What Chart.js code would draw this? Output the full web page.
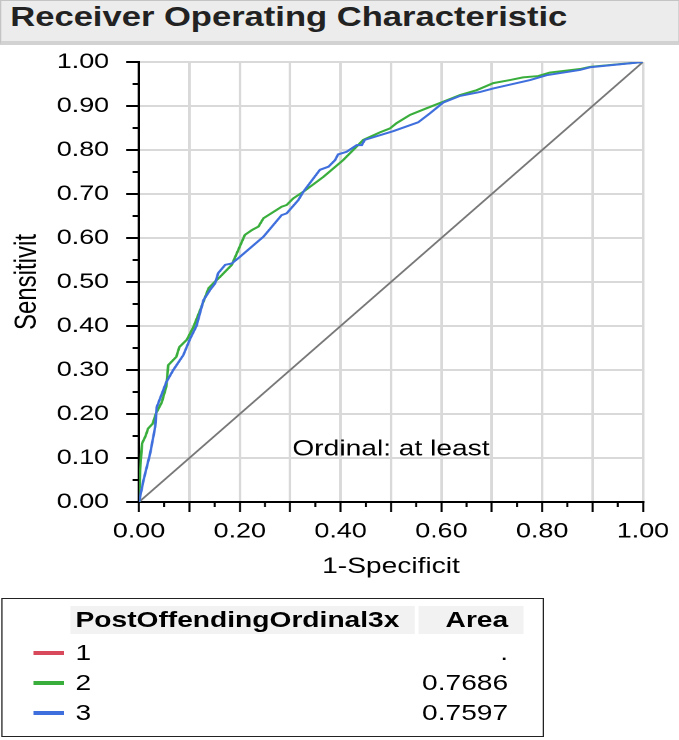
<!DOCTYPE html>
<html>
<head>
<meta charset="utf-8">
<script src="https://cdn.jsdelivr.net/npm/chart.js@4.4.1/dist/chart.umd.min.js"></script>
<style>
body { margin: 0; background: #fff; overflow: hidden; font-family: 'Liberation Sans', Arial, sans-serif; color: #000; }
#page { position: absolute; left: 0; top: 0; width: 531px; height: 740px; transform: scaleX(1.28); transform-origin: 0 0; }
#titleBar { position: absolute; left: 0; top: 0; width: 531px; height: 45px; box-sizing: border-box; background: #ececec; border: 1px solid #c4c4c4; border-bottom: 4px solid #d2d2d2; }
#titleBar span { position: absolute; left: 7px; top: 3px; font-weight: bold; font-size: 27px; line-height: 27px; color: #222; white-space: nowrap; }
#chartBox { position: absolute; left: 0; top: 45px; width: 531px; height: 545px; }
#legendBox { position: absolute; left: 1px; top: 598px; width: 424px; height: 139px; box-sizing: border-box; border: 1px solid #222; }
.hdr { position: absolute; top: 606px; height: 28px; background: #f2f2f2; }
.txt { position: absolute; font-size: 22px; white-space: nowrap; }
.swatch { position: absolute; left: 26px; width: 24px; height: 4px; }
</style>
</head>
<body>
<div id="page">
  <div id="titleBar"><span>Receiver Operating Characteristic</span></div>
  <div id="chartBox"><canvas id="rocChart"></canvas></div>
  <div id="legendBox"></div>
  <div class="hdr" style="left:55px;width:269px"></div>
  <div class="hdr" style="left:327px;width:82px"></div>
  <div id="legendRows"></div>
</div>
<script>
const xTickLabels = ['0.00', '0.20', '0.40', '0.60', '0.80', '1.00'];
const yTickLabels = ['0.00', '0.10', '0.20', '0.30', '0.40', '0.50', '0.60', '0.70', '0.80', '0.90', '1.00'];

// group 2 (green)
const greenX = [0, 0.002, 0.006, 0.013, 0.018, 0.027, 0.034, 0.045, 0.054, 0.058, 0.074, 0.080, 0.095, 0.108, 0.124, 0.138, 0.150, 0.161, 0.184, 0.210, 0.224, 0.237, 0.247, 0.283, 0.293, 0.306, 0.326, 0.366, 0.405, 0.445, 0.478, 0.498, 0.511, 0.538, 0.571, 0.604, 0.637, 0.670, 0.703, 0.736, 0.762, 0.792, 0.815, 0.875, 0.895, 1];
const greenY = [0, 0.070, 0.133, 0.150, 0.167, 0.178, 0.202, 0.226, 0.262, 0.311, 0.330, 0.352, 0.369, 0.398, 0.444, 0.486, 0.500, 0.512, 0.539, 0.607, 0.618, 0.626, 0.645, 0.671, 0.675, 0.690, 0.705, 0.739, 0.777, 0.823, 0.840, 0.849, 0.861, 0.880, 0.895, 0.910, 0.925, 0.936, 0.952, 0.959, 0.965, 0.968, 0.976, 0.984, 0.989, 1];

// group 3 (blue)
const blueX = [0, 0.009, 0.022, 0.032, 0.035, 0.042, 0.054, 0.068, 0.088, 0.101, 0.114, 0.128, 0.141, 0.151, 0.157, 0.171, 0.184, 0.200, 0.247, 0.283, 0.293, 0.316, 0.326, 0.359, 0.376, 0.389, 0.395, 0.412, 0.432, 0.442, 0.448, 0.505, 0.554, 0.577, 0.604, 0.637, 0.677, 0.703, 0.776, 0.809, 0.875, 0.895, 1];
const blueY = [0, 0.050, 0.110, 0.170, 0.215, 0.236, 0.272, 0.300, 0.334, 0.370, 0.400, 0.459, 0.482, 0.497, 0.520, 0.539, 0.542, 0.557, 0.603, 0.652, 0.656, 0.686, 0.705, 0.755, 0.762, 0.777, 0.790, 0.796, 0.811, 0.811, 0.823, 0.843, 0.863, 0.883, 0.908, 0.923, 0.932, 0.940, 0.959, 0.970, 0.982, 0.988, 1];

const chanceX = [0, 1];
const chanceY = [0, 1];

const groups = ['1', '2', '3'];
const areas = ['.', '0.7686', '0.7597'];
const groupColors = ['#d84a5b', '#3aae3c', '#3f6fdc'];
const annotationText = 'Ordinal: at least';
const minorTickValues = [0.05, 0.15, 0.25, 0.35, 0.45, 0.55, 0.65, 0.75, 0.85, 0.95];

const toPoints = (xs, ys) => xs.map((x, i) => ({ x, y: ys[i] }));

Chart.defaults.font.family = '"Liberation Sans", Arial, sans-serif';
Chart.defaults.color = '#000';

const extras = {
    id: 'extras',
    afterDraw(chart) {
        const { ctx, scales: { x, y } } = chart;
        ctx.save();
        ctx.strokeStyle = '#000';
        minorTickValues.forEach(v => {
            const px = x.getPixelForValue(v);
            ctx.lineWidth = 1.6;
            ctx.beginPath();
            ctx.moveTo(px, x.top);
            ctx.lineTo(px, x.top + 5);
            ctx.stroke();
            const py = y.getPixelForValue(v);
            ctx.lineWidth = 2;
            ctx.beginPath();
            ctx.moveTo(y.right - 5, py);
            ctx.lineTo(y.right, py);
            ctx.stroke();
        });
        ctx.font = '22px "Liberation Sans", Arial, sans-serif';
        ctx.fillStyle = '#000';
        ctx.textAlign = 'center';
        ctx.textBaseline = 'middle';
        ctx.fillText(annotationText, x.getPixelForValue(0.5), y.getPixelForValue(0.12));
        ctx.restore();
    }
};

const lineStyle = { showLine: true, pointRadius: 0, fill: false, tension: 0 };

new Chart(document.getElementById('rocChart'), {
    type: 'scatter',
    data: {
        datasets: [
            { label: groups[2], data: toPoints(blueX, blueY), borderColor: groupColors[2], borderWidth: 2, ...lineStyle },
            { label: groups[1], data: toPoints(greenX, greenY), borderColor: groupColors[1], borderWidth: 2, ...lineStyle },
            { label: groups[0], data: [], borderColor: groupColors[0], borderWidth: 2, ...lineStyle },
            { label: 'chance', data: toPoints(chanceX, chanceY), borderColor: '#777', borderWidth: 1.6, ...lineStyle }
        ]
    },
    options: {
        responsive: true,
        maintainAspectRatio: false,
        animation: false,
        devicePixelRatio: 2,
        layout: { padding: { left: 0, right: 28.7, top: 17, bottom: 0 } },
        plugins: { legend: { display: false }, tooltip: { enabled: false } },
        scales: {
            x: {
                type: 'linear', min: 0, max: 1,
                afterFit(s) { s.height = 88; },
                ticks: {
                    stepSize: 0.1, autoSkip: false, maxRotation: 0, padding: 7,
                    font: { size: 21 },
                    callback: (v, i) => (i % 2 === 0 ? xTickLabels[i / 2] : '')
                },
                grid: { color: '#d9d9d9', lineWidth: 2, tickColor: '#000', tickLength: 10, tickWidth: 1.6 },
                border: { color: '#000', width: 2 },
                title: { display: true, text: '1-Specificit', font: { size: 22 }, padding: { top: 0, bottom: 10 } }
            },
            y: {
                type: 'linear', min: 0, max: 1,
                afterFit(s) {
                    s.width = 108.6;
                    s.paddingTop = 0;
                    s.paddingBottom = 0;
                },
                ticks: {
                    stepSize: 0.1, autoSkip: false, padding: 13.4,
                    font: { size: 21 },
                    callback: (v, i) => yTickLabels[i]
                },
                grid: { color: '#d9d9d9', lineWidth: 2, tickColor: '#000', tickLength: 10, tickWidth: 2 },
                border: { color: '#000', width: 2 },
                title: { display: true, text: 'Sensitivit', font: { size: 24 }, padding: { top: 7, bottom: 0 } }
            }
        }
    },
    plugins: [extras]
});

// legend table
const rows = document.getElementById('legendRows');
let html = '<div class="txt" style="left:59px;top:606px;line-height:28px;font-weight:bold">PostOffendingOrdinal3x</div>' +
    '<div class="txt" style="left:327px;width:70px;text-align:right;top:606px;line-height:28px;font-weight:bold">Area</div>';
groups.forEach((g, i) => {
    const top = 638 + i * 30;
    html += `<div class="swatch" style="top:${top + 13}px;background:${groupColors[i]}"></div>`;
    html += `<div class="txt" style="left:59px;top:${top}px;line-height:30px">${g}</div>`;
    html += `<div class="txt" style="left:297px;width:100px;text-align:right;top:${top}px;line-height:30px">${areas[i]}</div>`;
});
rows.innerHTML = html;
</script>
</body>
</html>
